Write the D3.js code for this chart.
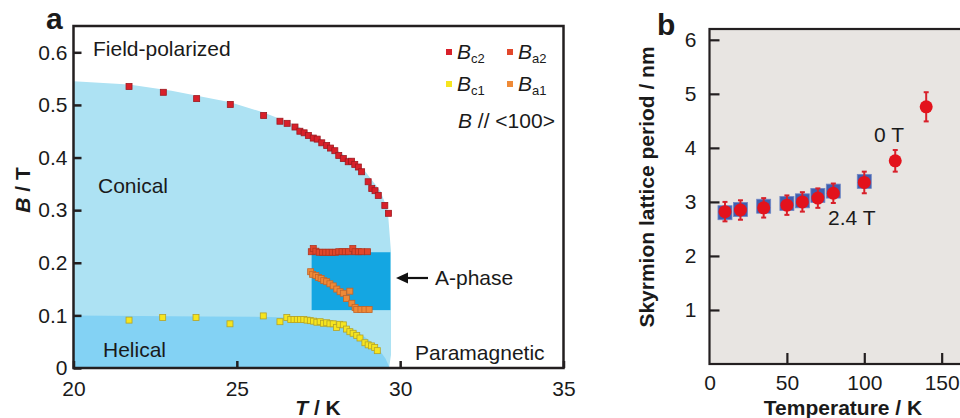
<!DOCTYPE html>
<html>
<head>
<meta charset="utf-8">
<script src="https://cdn.jsdelivr.net/npm/d3@7"></script>
<style>
  body { margin: 0; background: #fff; }
  text { font-family: "Liberation Sans", Arial, sans-serif; fill: #1a1a1a; }
</style>
</head>
<body>
<div id="chart"></div>
<script>
// ---- panel a data: phase diagram (T in K, B in T) ----
const bc2 = [[21.7,0.535],[22.75,0.524],[23.77,0.512],[24.8,0.501],[25.82,0.480],[26.32,0.469],[26.54,0.465],
  [26.78,0.458],[26.93,0.450],[27.06,0.447],[27.19,0.442],[27.34,0.437],[27.46,0.435],[27.6,0.428],[27.75,0.423],
  [27.87,0.418],[28.0,0.413],[28.12,0.404],[28.26,0.398],[28.41,0.392],[28.51,0.393],[28.61,0.387],[28.72,0.382],
  [28.82,0.373],[29.02,0.354],[29.13,0.341],[29.23,0.337],[29.33,0.328],[29.53,0.309],[29.64,0.294]];
const ba2 = [[27.28,0.221],[27.34,0.227],[27.42,0.222],[27.52,0.220],[27.62,0.220],[27.72,0.220],[27.82,0.220],
  [27.92,0.220],[28.02,0.220],[28.12,0.221],[28.22,0.221],[28.32,0.221],[28.42,0.221],[28.55,0.227],[28.62,0.221],
  [28.72,0.221],[28.82,0.221],[29.0,0.221]];
const ba1 = [[27.26,0.183],[27.32,0.178],[27.42,0.176],[27.5,0.172],[27.58,0.170],[27.66,0.166],[27.75,0.164],
  [27.85,0.160],[27.95,0.156],[28.06,0.150],[28.16,0.145],[28.26,0.142],[28.36,0.132],[28.46,0.146],[28.52,0.123],
  [28.62,0.115],[28.67,0.111],[28.8,0.111],[28.92,0.111],[29.05,0.111]];
const bc1 = [[21.7,0.091],[22.73,0.096],[23.75,0.096],[24.79,0.084],[25.81,0.099],[26.32,0.088],[26.53,0.096],
  [26.65,0.092],[26.75,0.092],[26.85,0.092],[26.95,0.092],[27.05,0.092],[27.15,0.091],[27.25,0.090],[27.35,0.089],
  [27.45,0.087],[27.55,0.088],[27.65,0.085],[27.75,0.086],[27.85,0.084],[27.95,0.084],[28.05,0.077],[28.15,0.083],
  [28.26,0.082],[28.36,0.074],[28.46,0.069],[28.56,0.066],[28.67,0.062],[28.77,0.057],[28.92,0.048],[29.02,0.044],
  [29.12,0.042],[29.22,0.039],[29.3,0.033]];

// phase region boundaries
const conicalEdge = [[20,0.545],[21.7,0.539],[23,0.527],[24.8,0.505],[25.8,0.486],[26.8,0.462],[27.6,0.434],
  [28.3,0.404],[28.9,0.376],[29.4,0.336],[29.62,0.30],[29.72,0.22],[29.72,0.025],[29.66,0]];
const helicalEdge = [[20,0.1],[22,0.099],[24,0.098],[26,0.097],[27,0.095],[27.6,0.09],[28.2,0.083],[28.6,0.072],
  [29,0.055],[29.3,0.04],[29.55,0.018],[29.68,0]];
const aPhase = {t0: 27.29, t1: 29.7, b0: 0.110, b1: 0.220};

const ticksTa = [20, 25, 30, 35];
const ticksBa = [0, 0.1, 0.2, 0.3, 0.4, 0.5, 0.6];

// ---- panel b data: skyrmion lattice period ----
const tempsB = [10, 20, 35, 50, 60, 70, 80, 100, 120, 140];
const periodRed = [2.82, 2.85, 2.89, 2.94, 3.00, 3.07, 3.16, 3.36, 3.76, 4.76];
const periodErr = [0.18, 0.18, 0.18, 0.18, 0.18, 0.18, 0.18, 0.2, 0.2, 0.27];
const tempsBlue = [10, 20, 35, 50, 60, 70, 80, 100];
const periodBlue = [2.80, 2.86, 2.92, 2.97, 3.02, 3.12, 3.20, 3.38];
const ticksTb = [0, 50, 100, 150];
const ticksPb = [1, 2, 3, 4, 5, 6];

const svg = d3.select("#chart").append("svg")
    .attr("width", 960)
    .attr("height", 418)

// ================= panel a =================
const xA = d3.scaleLinear().domain([20, 35]).range([73.5, 563.5]);
const yA = d3.scaleLinear().domain([0, 0.65]).range([368, 26]);

const area = d3.area()
    .x(d => xA(d[0]))
    .y0(yA(0))
    .y1(d => yA(d[1]));

svg.append("path").attr("d", area(conicalEdge)).attr("fill", "#ade2f3");
svg.append("path").attr("d", area(helicalEdge)).attr("fill", "#83d2f4");
svg.append("rect")
    .attr("x", xA(aPhase.t0))
    .attr("y", yA(aPhase.b1))
    .attr("width", xA(aPhase.t1) - xA(aPhase.t0))
    .attr("height", yA(aPhase.b0) - yA(aPhase.b1))
    .attr("fill", "#14a6e2");

// markers
const series = [
  {data: bc1, fill: "#f6e51e", stroke: "#b3a32a"},
  {data: ba1, fill: "#ef8a37", stroke: "#c3652a"},
  {data: ba2, fill: "#e2472b", stroke: "#b13521"},
  {data: bc2, fill: "#d8202a", stroke: "#9e1a20"}
];
const ms = 6;
series.forEach(s => {
    svg.append("g").selectAll("rect").data(s.data).join("rect")
        .attr("x", d => xA(d[0]) - ms / 2)
        .attr("y", d => yA(d[1]) - ms / 2)
        .attr("width", ms)
        .attr("height", ms)
        .attr("fill", s.fill)
        .attr("stroke", s.stroke)
        .attr("stroke-width", 0.8);
});

// frame
svg.append("rect")
    .attr("x", 73.5).attr("y", 26)
    .attr("width", 490).attr("height", 342)
    .attr("fill", "none").attr("stroke", "#231f20").attr("stroke-width", 2.5);

const axA_x = svg.append("g")
    .attr("transform", "translate(0,368)")
    .call(d3.axisBottom(xA).tickValues(ticksTa).tickSize(-7).tickPadding(13).tickFormat(d3.format("d")));
const axA_y = svg.append("g")
    .attr("transform", "translate(73.5,0)")
    .call(d3.axisLeft(yA).tickValues(ticksBa).tickSize(-8).tickPadding(6).tickFormat(d => d === 0 ? "0" : d3.format(".1f")(d)));
[axA_x, axA_y].forEach(g => {
    g.select(".domain").remove();
    g.selectAll(".tick line").attr("stroke", "#231f20").attr("stroke-width", 2.5);
    g.selectAll(".tick text").style("font-size", "21px").attr("fill", "#1a1a1a");
});

// labels panel a
svg.append("text").attr("x", 46).attr("y", 29).style("font-size", "30px").style("font-weight", "bold").text("a");
const lbl = (x, y, t) => svg.append("text").attr("x", x).attr("y", y).style("font-size", "21px").text(t);
lbl(93, 56, "Field-polarized");
lbl(98, 193, "Conical");
lbl(103, 357, "Helical");
lbl(415, 360, "Paramagnetic");
lbl(435, 285, "A-phase");

// arrow
svg.append("line").attr("x1", 428).attr("x2", 405).attr("y1", 278).attr("y2", 278)
    .attr("stroke", "#111").attr("stroke-width", 2.2);
svg.append("path").attr("d", "M396,278 L408,272.5 L408,283.5 Z").attr("fill", "#111");

// legend
const legend = [
  {x: 449, y: 52, fill: "#d8202a", sub: "c2"},
  {x: 510, y: 52, fill: "#e2472b", sub: "a2"},
  {x: 449, y: 84, fill: "#f6e51e", sub: "c1"},
  {x: 510, y: 84, fill: "#ef8a37", sub: "a1"}
];
legend.forEach(l => {
    svg.append("rect").attr("x", l.x - 3).attr("y", l.y - 3).attr("width", 6).attr("height", 6).attr("fill", l.fill);
    const t = svg.append("text").attr("x", l.x + 8).attr("y", l.y + 7).style("font-size", "21px");
    t.append("tspan").style("font-style", "italic").text("B");
    t.append("tspan").attr("dy", 4).style("font-size", "13px").text(l.sub);
});
const bt = svg.append("text").attr("x", 458).attr("y", 128).style("font-size", "21px");
bt.append("tspan").style("font-style", "italic").text("B");
bt.append("tspan").text(" // <100>");

// axis titles panel a
const tA = svg.append("text").attr("x", 318).attr("y", 415).attr("text-anchor", "middle")
    .style("font-size", "21px").style("font-weight", "bold");
tA.append("tspan").style("font-style", "italic").text("T");
tA.append("tspan").text(" / K");
const bA = svg.append("text").attr("transform", "translate(30,190) rotate(-90)").attr("text-anchor", "middle")
    .style("font-size", "21px").style("font-weight", "bold");
bA.append("tspan").style("font-style", "italic").text("B");
bA.append("tspan").text(" / T");

// ================= panel b =================
const xB = d3.scaleLinear().domain([0, 172.5]).range([709.5, 976.5]);
const yB = d3.scaleLinear().domain([0, 6.2]).range([364, 29]);

svg.append("rect")
    .attr("x", 709.5).attr("y", 29)
    .attr("width", 267).attr("height", 335)
    .attr("fill", "#e8e5e2");

// 2.4 T squares
svg.append("g").selectAll("rect").data(tempsBlue).join("rect")
    .attr("x", (d, i) => xB(d) - 7)
    .attr("y", (d, i) => yB(periodBlue[i]) - 7)
    .attr("width", 14)
    .attr("height", 14)
    .attr("fill", "#3f5fb0")
    .attr("stroke", "#6f86c4")
    .attr("stroke-width", 0.8);

// error bars + circles
const eb = svg.append("g").attr("stroke", "#d8202a").attr("stroke-width", 2);
tempsB.forEach((t, i) => {
    const cx = xB(t);
    const yTop = yB(periodRed[i] + periodErr[i]);
    const yBot = yB(periodRed[i] - periodErr[i]);
    eb.append("line").attr("x1", cx).attr("x2", cx).attr("y1", yTop).attr("y2", yBot);
    eb.append("line").attr("x1", cx - 2.5).attr("x2", cx + 2.5).attr("y1", yTop).attr("y2", yTop);
    eb.append("line").attr("x1", cx - 2.5).attr("x2", cx + 2.5).attr("y1", yBot).attr("y2", yBot);
});
svg.append("g").selectAll("circle").data(tempsB).join("circle")
    .attr("cx", d => xB(d))
    .attr("cy", (d, i) => yB(periodRed[i]))
    .attr("r", 6.5)
    .attr("fill", "#e3121c");

// frame
svg.append("rect")
    .attr("x", 709.5).attr("y", 29)
    .attr("width", 267).attr("height", 335)
    .attr("fill", "none").attr("stroke", "#231f20").attr("stroke-width", 2.2);

const axB_x = svg.append("g")
    .attr("transform", "translate(0,364)")
    .call(d3.axisBottom(xB).tickValues(ticksTb).tickSize(-11).tickPadding(11).tickFormat(d3.format("d")));
const axB_y = svg.append("g")
    .attr("transform", "translate(709.5,0)")
    .call(d3.axisLeft(yB).tickValues(ticksPb).tickSize(-10).tickPadding(13).tickFormat(d3.format("d")));
[axB_x, axB_y].forEach(g => {
    g.select(".domain").remove();
    g.selectAll(".tick line").attr("stroke", "#231f20").attr("stroke-width", 2.2);
    g.selectAll(".tick text").style("font-size", "21px").attr("fill", "#1a1a1a");
});
axB_x.selectAll(".tick").filter(d => d === 0).select("line").remove();

svg.append("text").attr("x", 657).attr("y", 35).style("font-size", "30px").style("font-weight", "bold").text("b");
lbl(874, 142, "0 T");
lbl(828, 225, "2.4 T");

svg.append("text").attr("x", 843).attr("y", 415).attr("text-anchor", "middle")
    .style("font-size", "21px").style("font-weight", "bold").text("Temperature / K");
svg.append("text").attr("transform", "translate(654,187) rotate(-90)").attr("text-anchor", "middle")
    .style("font-size", "21px").style("font-weight", "bold").text("Skyrmion lattice period / nm");
</script>
</body>
</html>
